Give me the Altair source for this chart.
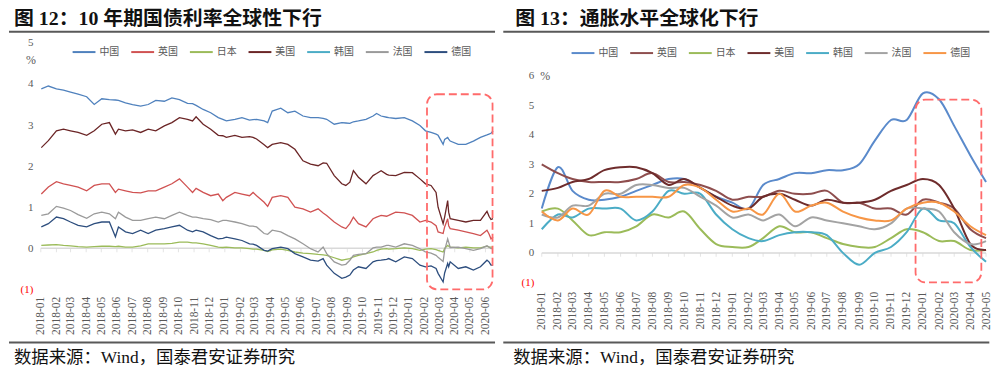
import altair as alt
import pandas as pd

FONT = "Liberation Serif, Noto Sans CJK SC"
CJK = "Noto Sans CJK SC, Liberation Serif"

countries = ["中国", "英国", "日本", "美国", "韩国", "法国", "德国"]
colors_l = ["#4F81BD", "#D05252", "#9BBB59", "#6B2526", "#4BACC6", "#9A9A9A", "#2D4E7E"]
colors_r = ["#5A8ACB", "#8E4E4E", "#9BBB59", "#6E2C2C", "#4BACC6", "#A3A3A3", "#F79646"]

title_l = "图 12：10 年期国债利率全球性下行"
title_r = "图 13：通胀水平全球化下行"
source = "数据来源：Wind，国泰君安证券研究"
unit = "%"

months_l = ["2018-01", "2018-02", "2018-03", "2018-04", "2018-05", "2018-06",
            "2018-07", "2018-08", "2018-09", "2018-10", "2018-11", "2018-12",
            "2019-01", "2019-02", "2019-03", "2019-04", "2019-05", "2019-06",
            "2019-07", "2019-08", "2019-09", "2019-10", "2019-11", "2019-12",
            "2020-01", "2020-02", "2020-03", "2020-04", "2020-05", "2020-06"]
months_r = ["2018-01", "2018-02", "2018-03", "2018-04", "2018-05", "2018-06",
            "2018-07", "2018-08", "2018-09", "2018-10", "2018-11", "2018-12",
            "2019-01", "2019-02", "2019-03", "2019-04", "2019-05", "2019-06",
            "2019-07", "2019-08", "2019-09", "2019-10", "2019-11", "2019-12",
            "2020-01", "2020-02", "2020-03", "2020-04", "2020-05"]

# ---- left panel: 10Y government bond yields ----
dates_l = ["2018-01-02", "2018-01-16", "2018-02-01", "2018-02-15", "2018-03-01", "2018-03-16", "2018-04-02", "2018-04-17", "2018-05-02", "2018-05-17",
           "2018-05-29", "2018-06-04", "2018-06-18", "2018-07-02", "2018-07-18", "2018-08-02", "2018-08-17", "2018-09-03", "2018-09-18", "2018-10-03",
           "2018-10-19", "2018-10-29", "2018-11-05", "2018-11-19", "2018-12-04", "2018-12-19", "2018-12-28", "2019-01-04", "2019-01-21", "2019-02-04",
           "2019-02-19", "2019-02-26", "2019-03-05", "2019-03-20", "2019-03-27", "2019-04-05", "2019-04-22", "2019-05-06", "2019-05-20", "2019-06-05",
           "2019-06-20", "2019-07-05", "2019-07-15", "2019-07-22", "2019-08-06", "2019-08-21", "2019-08-29", "2019-09-06", "2019-09-13", "2019-09-23",
           "2019-10-08", "2019-10-22", "2019-10-29", "2019-11-07", "2019-11-18", "2019-11-22", "2019-12-06", "2019-12-23", "2020-01-08", "2020-01-23",
           "2020-02-03", "2020-02-14", "2020-02-24", "2020-02-28", "2020-03-09", "2020-03-12", "2020-03-18", "2020-03-20", "2020-03-23", "2020-04-08",
           "2020-04-23", "2020-05-08", "2020-05-22", "2020-06-04", "2020-06-08", "2020-06-12", "2020-06-16"]

cn_l = [3.88, 3.95, 3.88, 3.85, 3.80, 3.75, 3.69, 3.50, 3.64, 3.62,
        3.61, 3.60, 3.54, 3.50, 3.46, 3.50, 3.60, 3.58, 3.66, 3.62,
        3.53, 3.52, 3.48, 3.38, 3.30, 3.18, 3.14, 3.10, 3.14, 3.18,
        3.12, 3.13, 3.14, 3.10, 3.06, 3.34, 3.41, 3.30, 3.34, 3.22,
        3.18, 3.18, 3.16, 3.14, 3.02, 3.06, 3.05, 3.04, 3.08, 3.10,
        3.14, 3.22, 3.28, 3.22, 3.19, 3.18, 3.16, 3.18, 3.10, 2.99,
        2.86, 2.82, 2.78, 2.75, 2.53, 2.65, 2.70, 2.66, 2.61, 2.53,
        2.53, 2.61, 2.70, 2.76, 2.78, 2.80, 2.86]
uk_l = [1.32, 1.49, 1.62, 1.57, 1.53, 1.49, 1.40, 1.53, 1.57, 1.57,
        1.36, 1.44, 1.40, 1.36, 1.35, 1.40, 1.40, 1.49, 1.57, 1.69,
        1.49, 1.36, 1.46, 1.36, 1.28, 1.32, 1.16, 1.24, 1.36, 1.32,
        1.28, 1.36, 1.28, 1.12, 1.02, 1.24, 1.28, 1.24, 1.00, 0.96,
        0.88, 0.96, 0.86, 0.80, 0.64, 0.52, 0.48, 0.60, 0.76, 0.60,
        0.52, 0.72, 0.76, 0.80, 0.78, 0.80, 0.88, 0.86, 0.80, 0.64,
        0.68, 0.64, 0.55, 0.40, 0.36, 0.52, 0.72, 0.55, 0.48, 0.44,
        0.40, 0.36, 0.31, 0.44, 0.35, 0.23, 0.27]
jp_l = [0.07, 0.08, 0.09, 0.07, 0.06, 0.04, 0.03, 0.04, 0.05, 0.05,
        0.04, 0.05, 0.03, 0.03, 0.06, 0.11, 0.11, 0.11, 0.12, 0.15,
        0.15, 0.13, 0.13, 0.11, 0.07, 0.03, 0.02, 0.03, 0.01, 0.01,
        -0.01, -0.02, -0.02, -0.05, -0.08, -0.04, -0.02, -0.05, -0.09, -0.12,
        -0.13, -0.15, -0.16, -0.17, -0.23, -0.29, -0.27, -0.25, -0.21, -0.17,
        -0.13, -0.09, -0.05, -0.02, -0.01, -0.02, -0.01, 0.01, -0.01, -0.05,
        -0.02, -0.01, -0.03, -0.05, -0.09, 0.00, 0.07, 0.05, 0.03, 0.01,
        0.03, 0.01, 0.01, 0.05, 0.03, 0.03, 0.03]
us_l = [2.45, 2.62, 2.86, 2.90, 2.86, 2.82, 2.75, 2.86, 3.02, 3.06,
        2.78, 2.90, 2.86, 2.88, 2.82, 2.90, 2.86, 2.98, 3.06, 3.18,
        3.14, 3.10, 3.20, 3.02, 2.90, 2.75, 2.74, 2.70, 2.75, 2.70,
        2.72, 2.70, 2.66, 2.52, 2.45, 2.53, 2.57, 2.53, 2.41, 2.13,
        2.05, 2.01, 2.08, 2.07, 1.77, 1.57, 1.53, 1.61, 1.89, 1.73,
        1.57, 1.77, 1.82, 1.89, 1.80, 1.78, 1.77, 1.85, 1.84, 1.69,
        1.57, 1.53, 1.36, 1.00, 0.60, 0.76, 1.16, 0.88, 0.72, 0.68,
        0.64, 0.68, 0.68, 0.90, 0.78, 0.70, 0.72]
fr_l = [0.80, 0.84, 1.02, 0.98, 0.92, 0.82, 0.73, 0.84, 0.88, 0.84,
        0.72, 0.88, 0.76, 0.68, 0.68, 0.72, 0.76, 0.72, 0.80, 0.88,
        0.80, 0.76, 0.76, 0.72, 0.70, 0.64, 0.68, 0.68, 0.64, 0.60,
        0.54, 0.54, 0.52, 0.36, 0.34, 0.44, 0.40, 0.31, 0.23, 0.11,
        -0.01, -0.09, 0.03, -0.13, -0.33, -0.41, -0.39, -0.29, -0.17, -0.15,
        -0.13, 0.01, 0.03, 0.03, 0.07, 0.07, 0.03, 0.11, 0.07, -0.01,
        -0.09, -0.12, -0.17, -0.22, -0.32, -0.05, 0.23, 0.15, 0.02, 0.03,
        -0.01, -0.05, -0.01, 0.06, 0.03, -0.01, -0.01]
de_l = [0.52, 0.60, 0.76, 0.72, 0.64, 0.56, 0.52, 0.60, 0.64, 0.64,
        0.28, 0.52, 0.40, 0.36, 0.44, 0.36, 0.44, 0.48, 0.52, 0.56,
        0.44, 0.40, 0.44, 0.40, 0.31, 0.23, 0.24, 0.27, 0.23, 0.19,
        0.11, 0.10, 0.07, -0.05, -0.07, -0.01, 0.03, -0.01, -0.13, -0.21,
        -0.29, -0.31, -0.25, -0.41, -0.61, -0.73, -0.70, -0.65, -0.53, -0.45,
        -0.49, -0.33, -0.30, -0.29, -0.27, -0.25, -0.33, -0.21, -0.25, -0.41,
        -0.45, -0.43, -0.49, -0.61, -0.82, -0.60, -0.37, -0.45, -0.33, -0.49,
        -0.45, -0.53, -0.45, -0.29, -0.33, -0.41, -0.41]

# ---- right panel: CPI YoY (monthly) ----
cn_r = [1.5, 2.9, 2.1, 1.8, 1.8, 1.9, 2.1, 2.3, 2.5, 2.5, 2.2, 1.9,
        1.7, 1.5, 2.3, 2.5, 2.7, 2.7, 2.8, 2.8, 3.0, 3.8, 4.5, 4.5,
        5.4, 5.2, 4.3, 3.3, 2.4]
uk_r = [3.0, 2.7, 2.5, 2.4, 2.4, 2.4, 2.5, 2.7, 2.4, 2.4, 2.3, 2.1,
        1.8, 1.9, 1.9, 2.1, 2.0, 2.0, 2.1, 1.7, 1.7, 1.5, 1.5, 1.3,
        1.8, 1.7, 1.5, 0.8, 0.5]
jp_r = [1.4, 1.5, 1.1, 0.6, 0.7, 0.7, 0.9, 1.3, 1.2, 1.4, 0.8, 0.3,
        0.2, 0.2, 0.5, 0.9, 0.7, 0.7, 0.5, 0.3, 0.2, 0.2, 0.5, 0.8,
        0.7, 0.4, 0.4, 0.1, 0.1]
us_r = [2.1, 2.2, 2.4, 2.5, 2.8, 2.9, 2.9, 2.7, 2.3, 2.5, 2.2, 1.9,
        1.6, 1.5, 1.9, 2.0, 1.8, 1.6, 1.8, 1.7, 1.7, 1.8, 2.1, 2.3,
        2.5, 2.3, 1.5, 0.3, 0.1]
kr_r = [0.8, 1.3, 1.2, 1.5, 1.5, 1.5, 1.1, 1.4, 2.1, 2.0, 2.0, 1.3,
        0.8, 0.5, 0.4, 0.6, 0.7, 0.7, 0.6, 0.0, -0.4, 0.0, 0.2, 0.7,
        1.5, 1.1, 1.0, 0.2, -0.3]
fr_r = [1.3, 1.2, 1.6, 1.6, 2.0, 2.0, 2.3, 2.3, 2.2, 2.2, 1.9, 1.6,
        1.2, 1.3, 1.1, 1.3, 0.9, 1.2, 1.1, 1.0, 0.9, 0.8, 1.0, 1.5,
        1.5, 1.4, 0.7, 0.3, 0.4]
de_r = [1.4, 1.1, 1.5, 1.3, 2.1, 1.9, 1.9, 1.9, 1.9, 2.3, 2.2, 1.8,
        1.4, 1.5, 1.3, 2.0, 1.4, 1.6, 1.7, 1.4, 1.2, 1.1, 1.1, 1.5,
        1.7, 1.7, 1.4, 0.9, 0.6]

# highlight boxes (data units)
box_l_x = ["2020-02-06", "2020-06-15"]
box_l_y = [-1.0, 3.75]
box_r_x = ["2019-12-18", "2020-04-22"]
box_r_y = [-1.0, 5.19]

yticks_l = [-1, 0, 1, 2, 3, 4, 5]
yticks_r = [-1, 0, 1, 2, 3, 4, 5, 6]
# y domains (the right one leaves headroom above 6 for its legend and title)
ydom_l = [-1, 5]
ydom_r = [-1, 7.11]


def long_df(dates, series):
    rows = []
    for name, vals in series:
        for d, v in zip(dates, vals):
            rows.append({"date": d, "country": name, "value": v})
    return pd.DataFrame(rows)


df_l = long_df(dates_l, [("中国", cn_l), ("英国", uk_l), ("日本", jp_l), ("美国", us_l),
                         ("法国", fr_l), ("德国", de_l)])
dates_r = [m + "-01" for m in months_r]
df_r = long_df(dates_r, [("中国", cn_r), ("英国", uk_r), ("日本", jp_r), ("美国", us_r),
                         ("韩国", kr_r), ("法国", fr_r), ("德国", de_r)])

one = pd.DataFrame({"k": [0]})


def x_axis(pad):
    return alt.Axis(format="%Y-%m", tickCount={"interval": "month", "step": 1},
                    labelAngle=270, labelOverlap=False, labelFlush=False,
                    domain=False, ticks=False, tickSize=0, grid=False,
                    labelFont=FONT, labelFontSize=11.5, labelColor="#595959",
                    labelPadding=pad, title=None)


def y_axis(vals):
    return alt.Axis(values=vals,
                    labelExpr="datum.value < 0 ? '(' + abs(datum.value) + ')' : datum.label",
                    labelColor={"condition": {"test": "datum.value < 0", "value": "#FF0000"},
                                "value": "#595959"},
                    domain=False, ticks=False, grid=False, labelFont=FONT,
                    labelFontSize=11, labelPadding=8, title=None)


def panel(df, month_list, box_x, box_y, colors, x_dom, y_dom, yticks, w, h,
          legend_x, legend_y, stroke_w, interp, title, title_xy, rule_x, rule_top,
          rule_bot, src_xy, pct_xy, xpad):
    xs = alt.Scale(type="utc", domain=x_dom, nice=False)
    ys = alt.Scale(domain=y_dom, nice=False, zero=False)
    xa = x_axis(xpad)
    ya = y_axis(yticks)

    zero = alt.Chart(one).mark_rule(color="#D9D9D9", strokeWidth=1.5).encode(
        y=alt.YDatum(0, scale=ys, axis=ya))
    tdf = pd.DataFrame({"date": [m + "-01" for m in month_list]})
    ticks = alt.Chart(tdf).mark_tick(orient="vertical", size=4, thickness=1,
                                     color="#D9D9D9", yOffset=2).encode(
        x=alt.X("date:T", scale=xs, axis=xa), y=alt.YDatum(0, scale=ys, axis=ya))

    legend = alt.Legend(orient="none", legendX=legend_x, legendY=legend_y,
                        direction="horizontal", columns=7, title=None,
                        symbolType="stroke", symbolSize=529, symbolStrokeWidth=2,
                        labelFont=CJK, labelFontSize=10, labelColor="#595959",
                        columnPadding=8, labelOffset=3, padding=0)
    line_kw = {"strokeWidth": stroke_w}
    if interp:
        line_kw["interpolate"] = interp
    lines = alt.Chart(df).mark_line(**line_kw).encode(
        x=alt.X("date:T", scale=xs, axis=xa),
        y=alt.Y("value:Q", scale=ys, axis=ya),
        color=alt.Color("country:N", scale=alt.Scale(domain=countries, range=colors),
                        legend=legend),
    )

    bdf = pd.DataFrame({"x1": [box_x[0]], "x2": [box_x[1]], "y1": [box_y[0]], "y2": [box_y[1]]})
    box = alt.Chart(bdf).mark_rect(fill="white", fillOpacity=0, stroke="#FF6B6B",
                                   strokeDash=[8, 4], strokeWidth=1.8, cornerRadius=10).encode(
        x=alt.X("x1:T", scale=xs, axis=xa), x2="x2:T",
        y=alt.Y("y1:Q", scale=ys, axis=ya), y2="y2:Q")

    ttl = alt.Chart(one).mark_text(align="left", baseline="top", font=FONT, fontSize=20,
                                   fontWeight="bold", color="#111111").encode(
        x=alt.value(title_xy[0]), y=alt.value(title_xy[1]), text=alt.value(title))
    r1 = alt.Chart(one).mark_rule(color="#595959", strokeWidth=2).encode(
        x=alt.value(rule_x[0]), x2=alt.value(rule_x[1]), y=alt.value(rule_top))
    r2 = alt.Chart(one).mark_rule(color="#595959", strokeWidth=2).encode(
        x=alt.value(rule_x[0]), x2=alt.value(rule_x[1]), y=alt.value(rule_bot))
    src = alt.Chart(one).mark_text(align="left", baseline="middle", font=FONT,
                                   fontSize=17.5, color="#111111").encode(
        x=alt.value(src_xy[0]), y=alt.value(src_xy[1]), text=alt.value(source))
    pct = alt.Chart(one).mark_text(align="center", baseline="middle", font=FONT,
                                   fontSize=12, color="#595959").encode(
        x=alt.value(pct_xy[0]), y=alt.value(pct_xy[1]), text=alt.value(unit))

    return alt.layer(zero, ticks, lines, box, ttl, r1, r2, src, pct).properties(
        width=w, height=h)


left = panel(df_l, months_l, box_l_x, box_l_y, colors_l,
             [alt.DateTime(year=2018, month=1, date=1, utc=True),
              alt.DateTime(year=2020, month=6, date=16, utc=True)],
             ydom_l, yticks_l, 455, 248, 31, -3.5, 1.3, None,
             title_l, (-27, -34), (-32, 457), -11.3, 301.5, (-27, 317), (-10, 17), 7)

right = panel(df_r, months_r, box_r_x, box_r_y, colors_r,
              [alt.DateTime(year=2018, month=1, date=1, utc=True),
               alt.DateTime(year=2020, month=5, date=1, utc=True)],
              ydom_r, yticks_r, 447, 241, 29, -2.5, 2, "cardinal",
              title_r, (-26.7, -34), (-38.7, 450.3), -11.3, 301.5, (-28.7, 317), (3.5, 33), 9)

chart = alt.hconcat(left, right, spacing=6).resolve_scale(
    color="independent", x="independent", y="independent"
).resolve_legend(color="independent").configure_view(stroke=None).properties(padding=0)

chart.save("out.html", embed_options={"renderer": "svg", "actions": False})
